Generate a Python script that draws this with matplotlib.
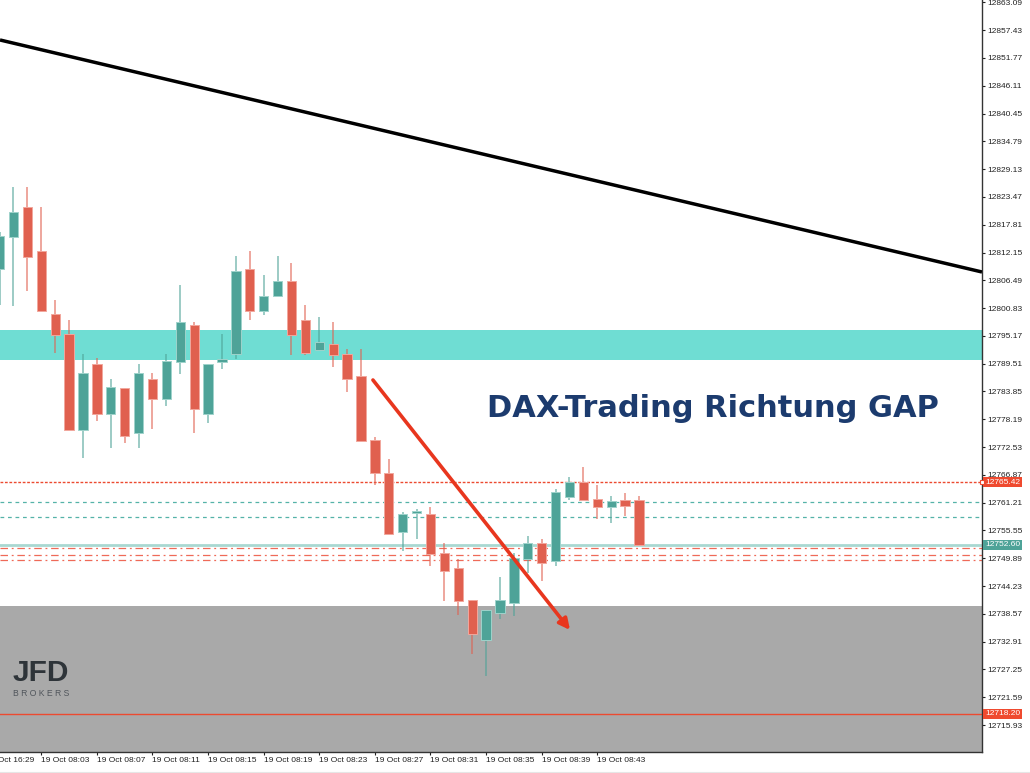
import matplotlib
matplotlib.use("Agg")
import matplotlib.pyplot as plt
from matplotlib.lines import Line2D

# ---------------- data ----------------
# candle index 1 = 19 Oct 08:00 ... 47 = 19 Oct 08:46
idx = list(range(1, 48))
opens = [12808.79, 12815.31, 12821.41, 12812.46, 12799.63, 12795.56, 12776.01, 12789.45, 12779.27, 12784.56,
         12775.40, 12786.40, 12782.32, 12789.86, 12797.39, 12779.27, 12789.86, 12791.49, 12808.79, 12800.24,
         12803.29, 12806.35, 12798.41, 12792.30, 12793.52, 12791.49, 12787.01, 12773.98, 12767.26, 12755.24,
         12759.11, 12758.91, 12750.97, 12747.92, 12741.40, 12733.26, 12738.75, 12740.79, 12749.75, 12753.01,
         12749.34, 12762.37, 12765.42, 12761.96, 12760.33, 12761.76, 12761.76]
highs = [12816.32, 12825.49, 12825.49, 12821.41, 12802.48, 12798.41, 12791.49, 12790.67, 12786.40, 12784.56,
         12789.45, 12787.62, 12791.49, 12805.53, 12798.00, 12789.45, 12795.56, 12811.44, 12812.46, 12807.57,
         12811.44, 12810.01, 12801.46, 12799.02, 12798.00, 12792.50, 12792.50, 12774.59, 12770.11, 12759.32,
         12759.93, 12760.33, 12753.01, 12749.75, 12741.40, 12739.36, 12746.08, 12750.97, 12754.43, 12753.82,
         12764.00, 12766.44, 12768.48, 12764.81, 12762.57, 12763.19, 12762.57]
lows = [12801.46, 12801.26, 12804.31, 12800.24, 12791.69, 12776.01, 12770.31, 12777.84, 12772.35, 12773.37,
        12772.35, 12776.22, 12780.90, 12787.41, 12775.40, 12777.44, 12788.43, 12790.47, 12798.41, 12799.43,
        12803.29, 12791.28, 12791.28, 12792.30, 12788.84, 12783.75, 12773.77, 12764.81, 12754.84, 12751.38,
        12753.82, 12748.32, 12741.20, 12738.35, 12730.41, 12725.93, 12737.53, 12738.14, 12746.90, 12745.27,
        12748.32, 12761.76, 12761.76, 12757.89, 12757.08, 12758.50, 12752.60]
closes = [12815.51, 12820.40, 12811.23, 12800.24, 12795.35, 12776.01, 12787.62, 12779.27, 12784.77, 12774.79,
          12787.62, 12782.32, 12790.06, 12798.00, 12780.29, 12789.45, 12790.47, 12808.38, 12800.24, 12803.29,
          12806.35, 12795.35, 12791.69, 12793.93, 12791.28, 12786.40, 12773.77, 12767.26, 12754.84, 12758.91,
          12759.52, 12750.77, 12747.31, 12741.20, 12734.48, 12739.36, 12741.40, 12749.95, 12753.01, 12748.93,
          12763.39, 12765.42, 12761.76, 12760.33, 12761.56, 12760.54, 12752.60]

x_tick_pos = [4, 8, 12, 16, 20, 24, 28, 32, 36, 40, 44]
x_tick_labels = ["19 Oct 08:03", "19 Oct 08:07", "19 Oct 08:11", "19 Oct 08:15", "19 Oct 08:19",
                 "19 Oct 08:23", "19 Oct 08:27", "19 Oct 08:31", "19 Oct 08:35", "19 Oct 08:39",
                 "19 Oct 08:43"]
first_label_pos = 0
first_label = "19 Oct 16:29"

y_ticks = [12715.93, 12721.59, 12727.25, 12732.91, 12738.57, 12744.23, 12749.89, 12755.55, 12761.21,
           12766.87, 12772.53, 12778.19, 12783.85, 12789.51, 12795.17, 12800.83, 12806.49, 12812.15,
           12817.81, 12823.47, 12829.13, 12834.79, 12840.45, 12846.11, 12851.77, 12857.43, 12863.09]

resistance_zone = (12790.26, 12796.37)
support_zone_top = 12740.18
trend_x = [1.03, 71.68]
trend_y = [12855.42, 12808.18]
arrow_start = (27.86, 12786.19)
arrow_end = (42.04, 12735.29)

red_dotted_level = 12765.42
teal_dashed_levels = [12761.35, 12758.30]
bid_level = 12752.60
red_dashdot_levels = [12751.99, 12750.56, 12749.54]
red_solid_level = 12718.20

price_labels = [(12765.42, "12765.42", "#ef4a2f"),
                (12752.60, "12752.60", "#4ea398"),
                (12718.20, "12718.20", "#ef4a2f")]

title = "DAX-Trading Richtung GAP"

# ---------------- styles ----------------
RED = "#e0604f"
TEAL = "#4ea398"
BAND = "#6fddd3"
GRAY = "#a9a9a9"
YMIN, YMAX = 12710.45, 12863.56
XMIN, XMAX = 1.029, 71.68

plt.rcParams['font.family'] = ['Liberation Sans', 'DejaVu Sans']

fig = plt.figure(figsize=(10.30, 7.73), dpi=100)
fig.patch.set_facecolor("white")
ax = fig.add_axes([0, 21 / 773, 982 / 1030, 752 / 773])
ax.set_facecolor("white")
ax.set_xlim(XMIN, XMAX)
ax.set_ylim(YMIN, YMAX)

# zones
ax.axhspan(resistance_zone[0], resistance_zone[1], color=BAND, zorder=1, lw=0)
ax.axhspan(YMIN, support_zone_top, color=GRAY, zorder=1, lw=0)

# horizontal levels
ax.axhline(red_dotted_level, color="#ec4a30", lw=1.0, ls=(0, (2, 1.2)), zorder=2)
for lv in teal_dashed_levels:
    ax.axhline(lv, color="#55b3a8", lw=0.9, ls=(0, (3, 3)), zorder=2)
ax.axhline(bid_level, color="#a9d8d2", lw=2.0, zorder=2)
for lv in red_dashdot_levels:
    ax.axhline(lv, color="#ef6a58", lw=0.9, ls=(0, (6, 3, 1.5, 3)), zorder=2)
ax.axhline(red_solid_level, color="#ec4a30", lw=1.0, zorder=2)

# candles
body_w = 0.67
for i, o, h, l, c in zip(idx, opens, highs, lows, closes):
    up = c >= o
    col = TEAL if up else RED
    edge = "#9fd3cb" if up else "#f2a79d"
    ax.vlines(i, l, h, color=col, lw=1.2, alpha=0.65, zorder=3)
    bottom = min(o, c)
    height = max(abs(c - o), 0.35)
    ax.bar(i, height, bottom=bottom, width=body_w, color=col, edgecolor=edge,
           linewidth=0.7, zorder=4)

# trendline
ax.plot(trend_x, trend_y, color="black", lw=2.5, zorder=5, solid_capstyle="butt")

# arrow
ax.annotate("", xy=arrow_end, xytext=arrow_start,
            arrowprops=dict(arrowstyle="-|>", color="#e8361e", lw=2.6,
                            mutation_scale=16, shrinkA=0, shrinkB=0), zorder=6)

# title
ax.text(0.7255, 0.4574, title, transform=ax.transAxes, ha="center", va="center",
        fontsize=22, fontweight="bold", color="#1c3b6e", zorder=7,
        family=["DejaVu Sans"])

# logo
ax.text(13 / 982, (752 - 673) / 752, "JFD", transform=ax.transAxes, ha="left", va="center",
        fontsize=21.5, fontweight="bold", color="#2e3439", zorder=7)
ax.text(13 / 982, (752 - 693.5) / 752, "B R O K E R S", transform=ax.transAxes, ha="left",
        va="center", fontsize=6.2, color="#50555b", zorder=7)

# axes / ticks
for s in ["left", "top"]:
    ax.spines[s].set_visible(False)
for s in ["right", "bottom"]:
    ax.spines[s].set_color("#333333")
    ax.spines[s].set_linewidth(1.0)
ax.yaxis.tick_right()
ax.set_yticks(y_ticks)
ax.set_yticklabels([f"{v:.2f}" for v in y_ticks])
ax.tick_params(axis="y", direction="out", length=2.5, width=0.8, pad=1.5,
               labelsize=6, colors="#222222")
ax.set_xticks(x_tick_pos)
ax.set_xticklabels(x_tick_labels)
ax.tick_params(axis="x", direction="out", length=2.2, width=0.8, pad=1.5,
               labelsize=6, colors="#222222")
for lbl in ax.get_xticklabels():
    lbl.set_horizontalalignment("left")

ax.annotate(first_label, xy=(first_label_pos, 0), xycoords=("data", "axes fraction"),
            xytext=(0, -3.7), textcoords="offset points", ha="left", va="top",
            fontsize=6, color="#222222", annotation_clip=False)

# coloured price labels
for val, txt, colr in price_labels:
    ax.annotate(txt, xy=(1.0, val), xycoords=("axes fraction", "data"),
                xytext=(2.2, 0), textcoords="offset points", ha="left", va="center",
                fontsize=6, color="white", annotation_clip=False, zorder=10,
                bbox=dict(boxstyle="square,pad=0.2", fc=colr, ec="none"))
ax.plot([1.0], [red_dotted_level], transform=ax.get_yaxis_transform(), marker="s",
        ms=3, mfc="white", mec="#ec4a30", mew=0.8, clip_on=False, zorder=11)

fig.add_artist(Line2D([0, 1], [1.5 / 773, 1.5 / 773], color="#e6e6e6", lw=0.8,
                      transform=fig.transFigure))

fig.savefig("out.png", dpi=100, facecolor="white")
